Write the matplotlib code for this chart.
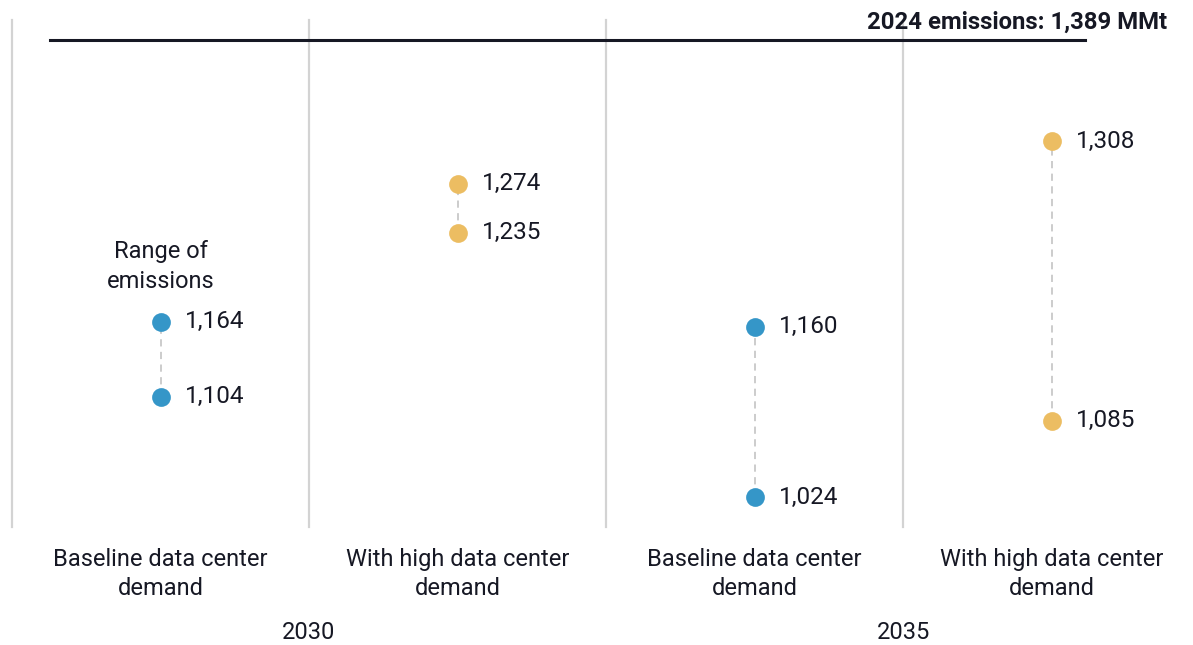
import matplotlib.pyplot as plt

plt.rcParams['font.family'] = ['Roboto', 'DejaVu Sans']

categories = ['Baseline data center\ndemand', 'With high data center\ndemand',
              'Baseline data center\ndemand', 'With high data center\ndemand']
years = ['2030', '2035']
high = [1164, 1274, 1160, 1308]
low = [1104, 1235, 1024, 1085]
colors = ['#3596c8', '#ecbd62', '#3596c8', '#ecbd62']
emissions_2024 = 1389

fig = plt.figure(figsize=(11.93, 6.45), dpi=100)
ax = fig.add_axes([0, 0, 1, 1])
ax.set_xlim(-0.0404, 3.976)
ax.set_ylim(905.8, 1420.9)
ax.axis('off')

text_color = '#161824'

# column separators
for i in range(4):
    ax.plot([i, i], [1000, 1405], color='#d3d3d3', lw=1.6, zorder=1)

# 2024 reference line
ax.plot([0.128, 3.613], [emissions_2024, emissions_2024], color=text_color, lw=2.2, zorder=2)
ax.text(3.889, 1403, f'2024 emissions: {emissions_2024:,} MMt', ha='right', va='center',
        fontsize=17.2, fontweight='bold', color=text_color)

for i in range(4):
    x = i + 0.5
    ax.plot([x, x], [low[i], high[i]], color='#c8c8c8', lw=1.3, ls=(0, (4, 3)), zorder=2)
    ax.plot([x, x], [low[i], high[i]], 'o', color=colors[i], ms=13.5, mec='none', zorder=3)
    ax.text(x + 0.083, high[i], f'{high[i]:,}', ha='left', va='center', fontsize=17.5, color=text_color)
    ax.text(x + 0.083, low[i], f'{low[i]:,}', ha='left', va='center', fontsize=17.5, color=text_color)
    ax.text(x, 962.6, categories[i], ha='center', va='center', fontsize=17,
            color=text_color, linespacing=1.37)

for j, yr in enumerate(years):
    ax.text(2 * j + 1, 915.5, yr, ha='center', va='center', fontsize=17, color=text_color)

ax.text(0.5, 1208, 'Range of\nemissions', ha='center', va='center', fontsize=17,
        color=text_color, linespacing=1.37)

fig.savefig('out.png', dpi=100)
